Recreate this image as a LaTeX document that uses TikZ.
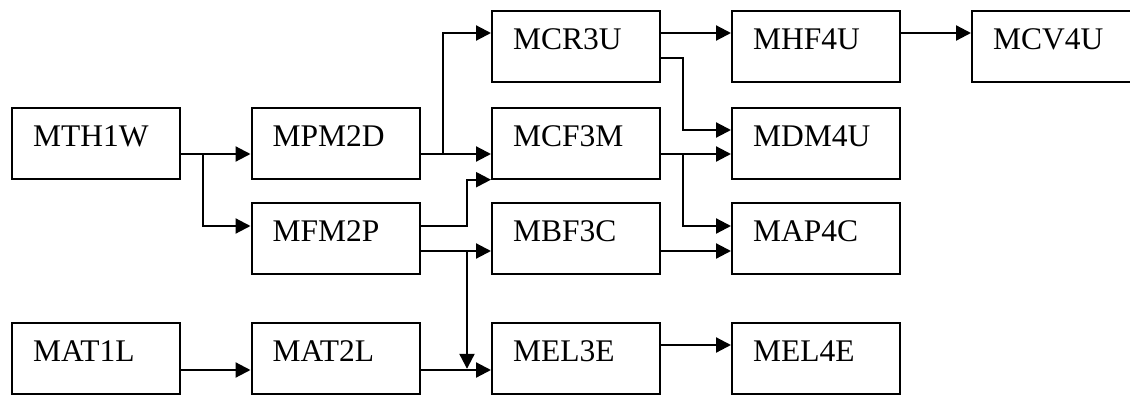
\documentclass[tikz,border=0pt]{standalone}
\usepackage{fontspec}
\setmainfont{Liberation Serif}
\usetikzlibrary{arrows.meta,calc}
\begin{document}
\begin{tikzpicture}[x=1pt,y=-1pt,
  box/.style={draw, line width=2.2pt, rectangle, anchor=north west,
    inner xsep=21pt, inner ysep=0pt, text width=126pt, align=left,
    text height=38.5pt, text depth=32.5pt,
    font=\fontsize{31.5}{36}\selectfont},
  conn/.style={line width=2.2pt},
  arr/.style={conn, -{Triangle[length=15pt,width=15pt]}}]
\clip (0,0) rectangle (1130,396);
% boxes
\node[box] (MTH1W) at (11,106.5) {MTH1W};
\node[box] (MPM2D) at (250.5,106.5) {MPM2D};
\node[box] (MFM2P) at (250.5,202) {MFM2P};
\node[box] (MAT1L) at (11,322) {MAT1L};
\node[box] (MAT2L) at (250.5,322) {MAT2L};
\node[box] (MCR3U) at (491,10) {MCR3U};
\node[box] (MCF3M) at (491,106.5) {MCF3M};
\node[box] (MBF3C) at (491,202) {MBF3C};
\node[box] (MEL3E) at (491,322) {MEL3E};
\node[box] (MHF4U) at (731,10) {MHF4U};
\node[box] (MDM4U) at (731,106.5) {MDM4U};
\node[box] (MAP4C) at (731,202) {MAP4C};
\node[box] (MEL4E) at (731,322) {MEL4E};
\node[box] (MCV4U) at (971,10) {MCV4U};
% branch columns
\coordinate (x1) at (203,0);
\coordinate (x2) at (443,0);
\coordinate (x3) at (467,0);
\coordinate (x4) at (683,0);
% connector ends
\coordinate (mth) at ([yshift=-47.5pt]MTH1W.north east);
\coordinate (mfmIn) at ([yshift=-24pt]MFM2P.north west);
\coordinate (mpm) at ([yshift=-47.5pt]MPM2D.north east);
\coordinate (mcrIn) at ([yshift=-23pt]MCR3U.north west);
\coordinate (mfmA) at ([yshift=-24pt]MFM2P.north east);
\coordinate (mfmB) at ([yshift=-49pt]MFM2P.north east);
\coordinate (mat1) at ([yshift=-48pt]MAT1L.north east);
\coordinate (mat2) at ([yshift=-48pt]MAT2L.north east);
\coordinate (mcrA) at ([yshift=-23pt]MCR3U.north east);
\coordinate (mcrB) at ([yshift=-48pt]MCR3U.north east);
\coordinate (mdmIn) at ([yshift=-23.5pt]MDM4U.north west);
\coordinate (mcf) at ([yshift=-47.5pt]MCF3M.north east);
\coordinate (mapIn) at ([yshift=-24pt]MAP4C.north west);
\coordinate (mbf) at ([yshift=-49pt]MBF3C.north east);
\coordinate (mel) at ([yshift=-23pt]MEL3E.north east);
\coordinate (mhf) at ([yshift=-23pt]MHF4U.north east);
% connectors
\draw[arr] (mth) -- (mth -| MPM2D.west);
\draw[arr] (mth -| x1) |- (mfmIn);
\draw[arr] (mpm) -- (mpm -| MCF3M.west);
\draw[arr] (mpm -| x2) |- (mcrIn);
\draw[arr] (mfmA) -| (x3 |- MCF3M.south west) -- (MCF3M.south west);
\draw[arr] (mfmB) -- (mfmB -| MBF3C.west);
\draw[arr] (mfmB -| x3) -- ([yshift=1.2pt]mat2 -| x3);
\draw[arr] (mat1) -- (mat1 -| MAT2L.west);
\draw[arr] (mat2) -- (mat2 -| MEL3E.west);
\draw[arr] (mcrA) -- (mcrA -| MHF4U.west);
\draw[arr] (mcrB) -| (x4 |- mdmIn) -- (mdmIn);
\draw[arr] (mcf) -- (mcf -| MDM4U.west);
\draw[arr] (mcf -| x4) |- (mapIn);
\draw[arr] (mbf) -- (mbf -| MAP4C.west);
\draw[arr] (mel) -- (mel -| MEL4E.west);
\draw[arr] (mhf) -- (mhf -| MCV4U.west);
\end{tikzpicture}
\end{document}
